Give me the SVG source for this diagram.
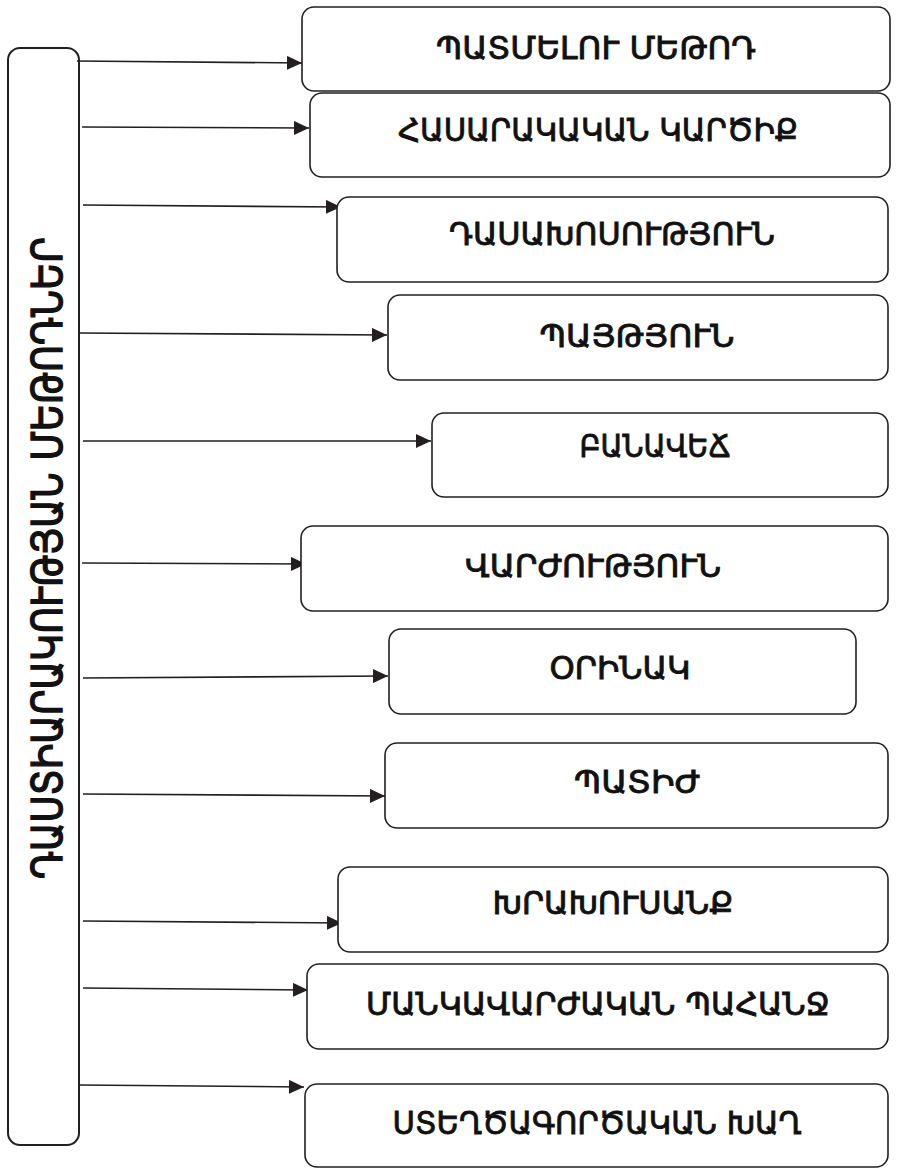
<svg xmlns="http://www.w3.org/2000/svg" width="901" height="1168" viewBox="0 0 901 1168">
<defs>
<marker id="ah" markerUnits="userSpaceOnUse" markerWidth="16" markerHeight="14" refX="15" refY="7" orient="auto">
<path d="M0,0 L15,7 L0,14 z" fill="#231f20"/>
</marker>
<style>
.box{fill:#fff;stroke:#231f20;stroke-width:1.6}
.main{fill:#fff;stroke:#231f20;stroke-width:2}
.lbl{font-family:"DejaVu Sans",sans-serif;font-weight:normal;font-size:32px;fill:#111;text-anchor:middle;stroke:#111;stroke-width:0.9}
.vl{font-family:"DejaVu Sans",sans-serif;font-weight:normal;font-size:42px;fill:#111;text-anchor:middle;stroke:#111;stroke-width:1.4}
.con line{stroke:#231f20;stroke-width:1.6;marker-end:url(#ah)}
</style>
</defs>
<g id="main-node">
<rect class="main" x="8" y="48" width="71" height="1097" rx="12"/>
<text class="vl" transform="translate(62,558) rotate(-90)" textLength="642" lengthAdjust="spacingAndGlyphs">ԴԱՍՏԻԱՐԱԿՈՒԹՅԱՆ ՄԵԹՈԴՆԵՐ</text>
</g>
<g id="connectors" class="con">
<line x1="77" y1="61" x2="302" y2="63"/>
<line x1="82" y1="127" x2="309" y2="128"/>
<line x1="83" y1="205" x2="341" y2="207"/>
<line x1="79" y1="333" x2="387" y2="335"/>
<line x1="83" y1="441" x2="431" y2="441"/>
<line x1="82" y1="563" x2="306" y2="564"/>
<line x1="83" y1="678" x2="388" y2="676"/>
<line x1="83" y1="794" x2="385" y2="796"/>
<line x1="83" y1="921" x2="342" y2="923"/>
<line x1="83" y1="988" x2="308" y2="990"/>
<line x1="79" y1="1085" x2="304" y2="1087"/>
</g>
<g id="n1"><rect class="box" x="302" y="7" width="588" height="84" rx="12"/><text class="lbl" x="596" y="59" textLength="320" lengthAdjust="spacingAndGlyphs">ՊԱՏՄԵԼՈՒ ՄԵԹՈԴ</text></g>
<g id="n2"><rect class="box" x="310" y="93" width="580" height="84" rx="12"/><text class="lbl" x="598" y="141" textLength="400" lengthAdjust="spacingAndGlyphs">ՀԱՍԱՐԱԿԱԿԱՆ ԿԱՐԾԻՔ</text></g>
<g id="n3"><rect class="box" x="337" y="197" width="551" height="85" rx="12"/><text class="lbl" x="612" y="245" textLength="326" lengthAdjust="spacingAndGlyphs">ԴԱՍԱԽՈՍՈՒԹՅՈՒՆ</text></g>
<g id="n4"><rect class="box" x="388" y="295" width="500" height="85" rx="12"/><text class="lbl" x="637" y="347" textLength="195" lengthAdjust="spacingAndGlyphs">ՊԱՅԹՅՈՒՆ</text></g>
<g id="n5"><rect class="box" x="432" y="413" width="456" height="84" rx="12"/><text class="lbl" x="655" y="457" textLength="151" lengthAdjust="spacingAndGlyphs">ԲԱՆԱՎԵՃ</text></g>
<g id="n6"><rect class="box" x="301" y="526" width="587" height="85" rx="12"/><text class="lbl" x="593" y="577" textLength="256" lengthAdjust="spacingAndGlyphs">ՎԱՐԺՈՒԹՅՈՒՆ</text></g>
<g id="n7"><rect class="box" x="389" y="629" width="467" height="85" rx="12"/><text class="lbl" x="620" y="679" textLength="141" lengthAdjust="spacingAndGlyphs">ՕՐԻՆԱԿ</text></g>
<g id="n8"><rect class="box" x="385" y="743" width="503" height="85" rx="12"/><text class="lbl" x="637" y="793" textLength="126" lengthAdjust="spacingAndGlyphs">ՊԱՏԻԺ</text></g>
<g id="n9"><rect class="box" x="338" y="867" width="550" height="85" rx="12"/><text class="lbl" x="613" y="914" textLength="241" lengthAdjust="spacingAndGlyphs">ԽՐԱԽՈՒՍԱՆՔ</text></g>
<g id="n10"><rect class="box" x="307" y="964" width="581" height="85" rx="12"/><text class="lbl" x="598" y="1015" textLength="464" lengthAdjust="spacingAndGlyphs">ՄԱՆԿԱՎԱՐԺԱԿԱՆ ՊԱՀԱՆՋ</text></g>
<g id="n11"><rect class="box" x="305" y="1084" width="583" height="83" rx="12"/><text class="lbl" x="597" y="1134" textLength="409" lengthAdjust="spacingAndGlyphs">ՍՏԵՂԾԱԳՈՐԾԱԿԱՆ ԽԱՂ</text></g>
</svg>
